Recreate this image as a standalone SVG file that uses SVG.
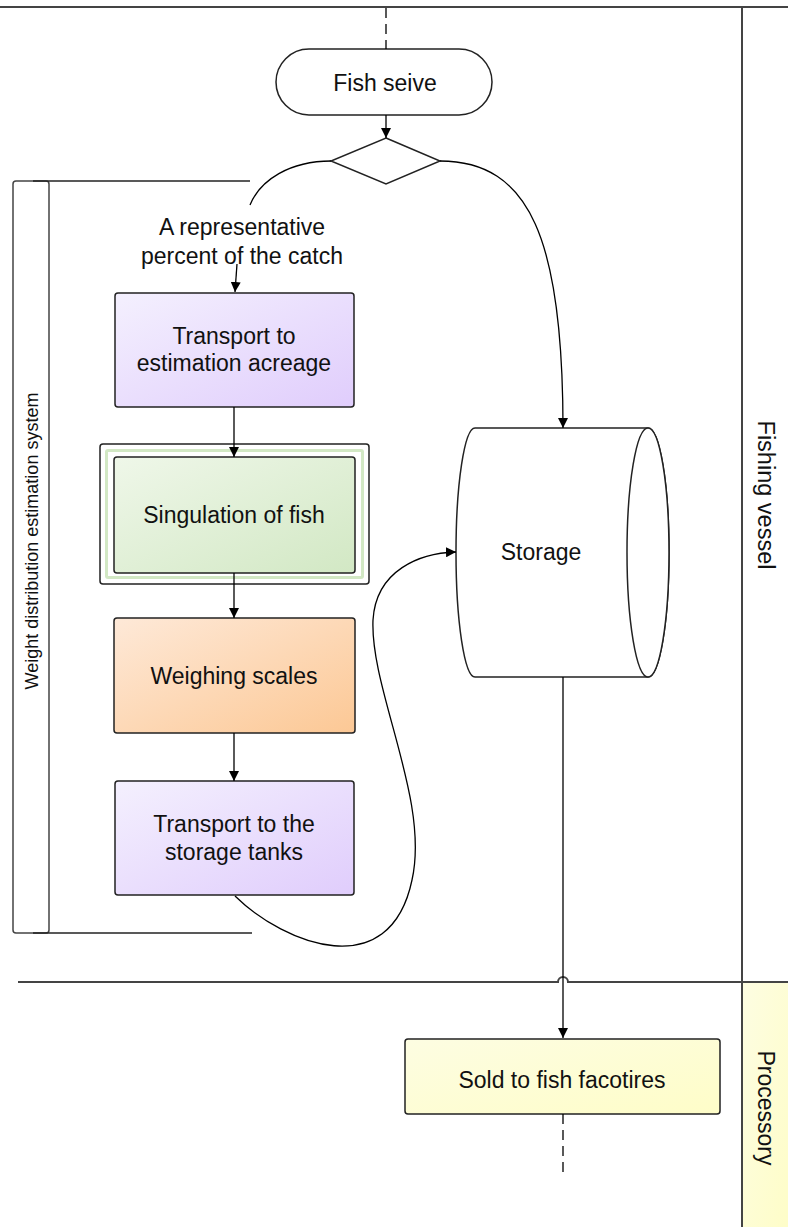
<svg xmlns="http://www.w3.org/2000/svg" width="788" height="1227" viewBox="0 0 788 1227">
<defs>
<linearGradient id="gPurple" x1="0" y1="0" x2="1" y2="1"><stop offset="0" stop-color="#f4f0fe"/><stop offset="1" stop-color="#e0cdfc"/></linearGradient>
<linearGradient id="gGreen" x1="0" y1="0" x2="1" y2="1"><stop offset="0" stop-color="#eff7e9"/><stop offset="1" stop-color="#d2e8c4"/></linearGradient>
<linearGradient id="gOrange" x1="0" y1="0" x2="1" y2="1"><stop offset="0" stop-color="#fee9d8"/><stop offset="1" stop-color="#fcc895"/></linearGradient>
<linearGradient id="gYellow" x1="0" y1="0" x2="1" y2="1"><stop offset="0" stop-color="#fdfde2"/><stop offset="1" stop-color="#fefdc8"/></linearGradient>
<marker id="arr" viewBox="0 0 10 10" refX="10" refY="5" markerWidth="10" markerHeight="10" markerUnits="userSpaceOnUse" orient="auto"><path d="M0,0 L10,5 L0,10 z" fill="#000"/></marker>
</defs>
<style>
.lane{stroke:#444;stroke-width:2;fill:none}
.node{stroke:#222;stroke-width:1.5}
.conn{stroke:#000;stroke-width:1.3;fill:none}
.t{font-family:"Liberation Sans",Arial,sans-serif;font-size:23px;fill:#111;text-anchor:middle}
.tl{font-family:"Liberation Sans",Arial,sans-serif;font-size:18px;fill:#111;text-anchor:middle}
</style>
<rect width="788" height="1227" fill="#fff"/>
<g id="lanes">
<rect x="742" y="982" width="46" height="245" fill="url(#gYellow)"/>
<line class="lane" x1="0" y1="7" x2="788" y2="7"/>
<line class="lane" x1="742" y1="7" x2="742" y2="1227"/>
<path class="lane" d="M18,982 L558,982 A5,5 0 0 1 568,982 L788,982"/>
<text class="t" transform="translate(758,495) rotate(90)" style="font-size:23.5px">Fishing vessel</text>
<text class="t" transform="translate(758,1108) rotate(90)">Processory</text>
</g>
<g id="wdes">
<rect x="13" y="181" width="36" height="752" rx="3" fill="none" stroke="#444" stroke-width="1.5"/>
<line x1="33" y1="181" x2="250" y2="181" stroke="#222" stroke-width="1.5"/>
<line x1="33" y1="933" x2="252" y2="933" stroke="#222" stroke-width="1.5"/>
<text class="tl" transform="translate(38,541) rotate(-90)">Weight distribution estimation system</text>
</g>
<g id="fish-seive">
<rect class="node" x="276" y="49" width="216" height="66" rx="33" fill="#fff"/>
<text class="t" x="385" y="91">Fish seive</text>
</g>
<g id="decision">
<polygon class="node" points="386,138 440,161 386,184 331,161" fill="#fff"/>
</g>
<g id="label">
<text class="t" x="242" y="235">A representative</text>
<text class="t" x="242" y="264">percent of the catch</text>
</g>
<g id="transport-acreage">
<rect class="node" x="115" y="293" width="239" height="114" rx="3" fill="url(#gPurple)"/>
<text class="t" x="234" y="344">Transport to</text>
<text class="t" x="234" y="371">estimation acreage</text>
</g>
<g id="singulation">
<rect x="100" y="444" width="269" height="140" rx="3" fill="#fff" stroke="#222" stroke-width="1.5"/>
<rect x="105" y="449" width="259" height="130" rx="3" fill="#d2e8c4"/>
<rect x="108" y="452" width="253" height="124" fill="#fff"/>
<rect class="node" x="114" y="457" width="241" height="116" rx="3" fill="url(#gGreen)"/>
<text class="t" x="234" y="523">Singulation of fish</text>
</g>
<g id="weighing">
<rect class="node" x="114" y="618" width="241" height="115" rx="3" fill="url(#gOrange)"/>
<text class="t" x="234" y="684">Weighing scales</text>
</g>
<g id="transport-tanks">
<rect class="node" x="115" y="781" width="239" height="114" rx="3" fill="url(#gPurple)"/>
<text class="t" x="234" y="832">Transport to the</text>
<text class="t" x="234" y="860">storage tanks</text>
</g>
<g id="storage">
<path class="node" d="M475,428 L648,428 A21,124.5 0 0 1 648,677 L475,677 A19,124.5 0 0 1 475,428 Z" fill="#fff"/>
<ellipse class="node" cx="648" cy="552.5" rx="21" ry="124.5" fill="#fff"/>
<text class="t" x="541" y="560">Storage</text>
</g>
<g id="sold">
<rect class="node" x="405" y="1039" width="315" height="75" rx="3" fill="url(#gYellow)"/>
<text class="t" x="562" y="1088">Sold to fish facotires</text>
</g>
<g id="connectors">
<line class="conn" x1="386" y1="8" x2="386" y2="49" stroke-dasharray="10,6"/>
<line class="conn" x1="386" y1="115" x2="386" y2="138" marker-end="url(#arr)"/>
<path class="conn" d="M331,161 C290,161 260,180 250,205"/>
<path class="conn" d="M237,264 L235,292" marker-end="url(#arr)"/>
<path class="conn" d="M440,161 C530,161 563,240 563,428" marker-end="url(#arr)"/>
<line class="conn" x1="234" y1="407" x2="234" y2="457" marker-end="url(#arr)"/>
<line class="conn" x1="234" y1="573" x2="234" y2="618" marker-end="url(#arr)"/>
<line class="conn" x1="234" y1="733" x2="234" y2="781" marker-end="url(#arr)"/>
<path class="conn" d="M235,896 C285,945 390,985 412,880 C430,800 370,690 373,620 C376,570 420,553 456,552" marker-end="url(#arr)"/>
<path class="conn" d="M563,677 L563,1038" marker-end="url(#arr)"/>
<line class="conn" x1="563" y1="1114" x2="563" y2="1172" stroke-dasharray="10,6"/>
</g>
</svg>
